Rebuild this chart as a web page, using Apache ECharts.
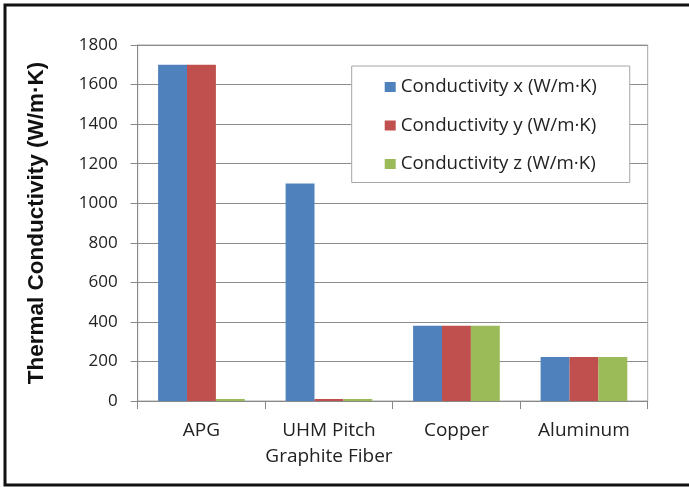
<!DOCTYPE html>
<html>
<head>
<meta charset="utf-8">
<script src="https://cdn.jsdelivr.net/npm/echarts@6/dist/echarts.min.js"></script>
<style>
  html, body { margin: 0; padding: 0; background: #fff; }
  #main { width: 689px; height: 487px; }
</style>
</head>
<body>
<div id="main"></div>
<script>
// 材料类别
var categories = ['APG', 'UHM Pitch\nGraphite Fiber', 'Copper', 'Aluminum'];
var seriesNames = ['Conductivity x (W/m·K)', 'Conductivity y (W/m·K)', 'Conductivity z (W/m·K)'];
var condX = [1700, 1100, 380, 222];
var condY = [1700, 10, 380, 222];
var condZ = [10, 10, 380, 222];
var yTicks = [0, 200, 400, 600, 800, 1000, 1200, 1400, 1600, 1800];

var colors = ['#4F81BD', '#C0504D', '#9BBB59'];
var font = '"Open Sans", "Noto Sans", sans-serif';

var myChart = echarts.init(document.getElementById('main'));
var option = {
    animation: false,
    backgroundColor: '#fff',
    color: colors,
    // 外框
    graphic: [{
        type: 'rect',
        shape: { x: 5, y: 5, width: 700, height: 480 },
        style: { fill: null, stroke: '#111', lineWidth: 3 },
        silent: true
    }],
    grid: {
        left: 137.7,
        right: 41.3,
        top: 45,
        bottom: 86,
        show: true,
        borderColor: '#a6a6a6',
        borderWidth: 1
    },
    legend: {
        orient: 'vertical',
        left: 351.7,
        top: 66,
        itemWidth: 11,
        itemHeight: 10,
        itemGap: 19.5,
        padding: [11.5, 33, 9, 33],
        backgroundColor: '#fff',
        borderColor: '#a6a6a6',
        borderWidth: 1,
        icon: 'rect',
        textStyle: { fontFamily: font, fontSize: 18.7, color: '#222' },
        data: seriesNames
    },
    xAxis: {
        type: 'category',
        data: categories,
        axisLine: { lineStyle: { color: '#888', width: 1 } },
        axisTick: { show: true, length: 8, lineStyle: { color: '#888' } },
        axisLabel: {
            margin: 17,
            fontFamily: font,
            fontSize: 19,
            lineHeight: 26,
            color: '#222',
            interval: 0
        }
    },
    yAxis: {
        type: 'value',
        min: yTicks[0],
        max: yTicks[yTicks.length - 1],
        interval: 200,
        name: 'Thermal Conductivity (W/m·K)',
        nameLocation: 'middle',
        nameGap: 89,
        nameRotate: 90,
        nameTextStyle: {
            fontFamily: '"Liberation Sans", Arial, sans-serif',
            fontWeight: 'bold',
            fontSize: 22.5,
            color: '#111'
        },
        axisLine: { show: true, lineStyle: { color: '#888', width: 1 } },
        axisTick: { show: true, length: 7, lineStyle: { color: '#888' } },
        axisLabel: {
            margin: 20,
            fontFamily: font,
            fontSize: 17,
            color: '#222',
            formatter: function (v) { return String(v); }
        },
        splitLine: { lineStyle: { color: '#8c8c8c', width: 1 } }
    },
    series: [
        { name: seriesNames[0], type: 'bar', data: condX, barGap: 0, barCategoryGap: '32%' },
        { name: seriesNames[1], type: 'bar', data: condY, barGap: 0, barCategoryGap: '32%' },
        { name: seriesNames[2], type: 'bar', data: condZ, barGap: 0, barCategoryGap: '32%' }
    ]
};
myChart.setOption(option);
</script>
</body>
</html>
